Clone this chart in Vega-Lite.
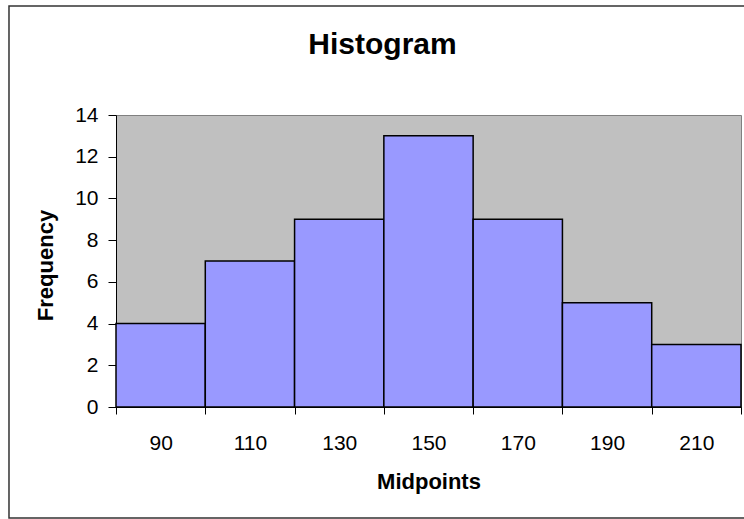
{
  "$schema": "https://vega.github.io/schema/vega-lite/v6.json",
  "width": 625,
  "height": 292,
  "autosize": {"type": "none"},
  "padding": {"left": 116, "top": 115, "right": 3, "bottom": 112},
  "background": "white",
  "title": {"text": "Histogram", "fontSize": 30, "fontWeight": "bold", "color": "black", "anchor": "middle", "dx": -46, "dy": 59},
  "data": {
    "values": [
      {"midpoint": 90, "start": 80, "end": 100, "count": 4},
      {"midpoint": 110, "start": 100, "end": 120, "count": 7},
      {"midpoint": 130, "start": 120, "end": 140, "count": 9},
      {"midpoint": 150, "start": 140, "end": 160, "count": 13},
      {"midpoint": 170, "start": 160, "end": 180, "count": 9},
      {"midpoint": 190, "start": 180, "end": 200, "count": 5},
      {"midpoint": 210, "start": 200, "end": 220, "count": 3}
    ]
  },
  "layer": [
    {
      "mark": {"type": "rect", "fill": "#9999FF", "stroke": "black", "strokeWidth": 1.5},
      "encoding": {
        "x": {
          "field": "start", "type": "quantitative",
          "scale": {"domain": [80, 220], "nice": false, "zero": false},
          "axis": {
            "title": "Midpoints",
            "values": [80, 90, 100, 110, 120, 130, 140, 150, 160, 170, 180, 190, 200, 210, 220],
            "labelExpr": "datum.value % 20 == 10 ? datum.label : ''",
            "tickOpacity": {"condition": {"test": "datum.value % 20 == 0", "value": 1}, "value": 0},
            "tickSize": 7, "tickColor": "black", "domainColor": "black",
            "labelFontSize": 21, "labelColor": "black", "labelPadding": 18,
            "labelOverlap": false, "labelFlush": false,
            "titleFontSize": 22, "titleFontWeight": "bold", "titleColor": "black",
            "titleY": 81, "titleBaseline": "alphabetic", "grid": false
          }
        },
        "x2": {"field": "end"},
        "y": {
          "field": "count", "type": "quantitative",
          "scale": {"domain": [0, 14], "nice": false},
          "axis": {
            "title": "Frequency",
            "values": [0, 2, 4, 6, 8, 10, 12, 14],
            "tickSize": 8, "tickColor": "black", "domainColor": "black",
            "labelFontSize": 21, "labelColor": "black", "labelPadding": 10,
            "labelOverlap": false, "labelFlush": false,
            "titleFontSize": 22, "titleFontWeight": "bold", "titleColor": "black",
            "titleX": -64, "titleY": 150, "titleBaseline": "alphabetic", "titleAngle": 270,
            "grid": false
          }
        },
        "y2": {"datum": 0}
      }
    },
    {
      "data": {"values": [{}]},
      "mark": {"type": "rect", "fill": "white", "fillOpacity": 0, "stroke": "#333333", "strokeWidth": 1.5, "clip": false},
      "encoding": {
        "x": {"datum": 56.03, "type": "quantitative"},
        "x2": {"datum": 300},
        "y": {"datum": -5.32, "type": "quantitative"},
        "y2": {"datum": 19.23}
      }
    }
  ],
  "config": {
    "font": "Liberation Sans",
    "view": {"fill": "#C0C0C0", "stroke": "#808080", "strokeWidth": 1}
  }
}
